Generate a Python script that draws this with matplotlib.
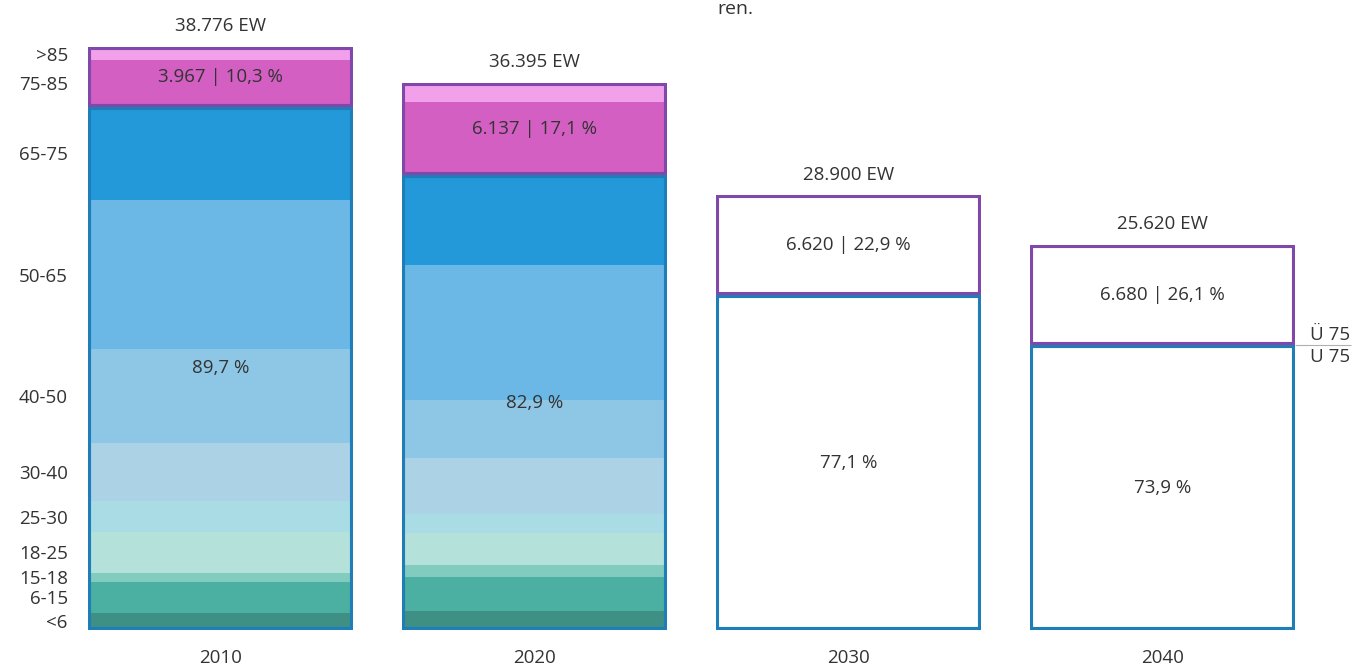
import matplotlib
matplotlib.use("Agg")
import matplotlib.pyplot as plt
import numpy as np

plt.rcParams['font.family'] = ['Open Sans', 'DejaVu Sans']

# Jahre und Einwohner (EW) je Altersgruppe
years = ['2010', '2020', '2030', '2040']
age_groups = ['<6', '6-15', '15-18', '18-25', '25-30', '30-40', '40-50', '50-65', '65-75', '75-85', '>85']
pop_2010 = [1159, 2060, 600, 2730, 2000, 3860, 6250, 9950, 6200, 3097, 870]
pop_2020 = [1260, 2260, 800, 2130, 1260, 3720, 3860, 8980, 5988, 4877, 1260]

totals = [38776, 36395, 28900, 25620]
over75 = [3967, 6137, 6620, 6680]
under75 = [t - o for t, o in zip(totals, over75)]
over75_labels = ['3.967 | 10,3 %', '6.137 | 17,1 %', '6.620 | 22,9 %', '6.680 | 26,1 %']
under75_labels = ['89,7 %', '82,9 %', '77,1 %', '73,9 %']
total_labels = ['38.776 EW', '36.395 EW', '28.900 EW', '25.620 EW']

age_colors = ['#3e9084', '#4bafa2', '#82cbbf', '#b4e1da', '#aadce6', '#abd2e5',
              '#8ec6e6', '#6bb8e6', '#2399da', '#d35fc2', '#f3a0ea']
blue = '#1f7db8'
purple = '#8048aa'
text_color = '#333333'
fs = 13.5

fig = plt.figure(figsize=(13.52, 6.69), dpi=100)
ax = fig.add_axes([72 / 1352, 39 / 669, 1228 / 1352, 601.4 / 669])
ax.set_xlim(-0.473, 3.438)
ax.set_ylim(0, 40000)

x = np.arange(len(years))
w = 0.844

# gestapelte Altersgruppen fuer 2010 und 2020
for i, pops in enumerate([pop_2010, pop_2020]):
    bottom = 0
    for val, col in zip(pops, age_colors):
        ax.bar(x[i], val, w, bottom=bottom, color=col, edgecolor='none', zorder=1)
        bottom += val

# Rahmen U 75 / Ü 75 (Strich nur nach innen)
for i in x:
    for h, b, col in [(under75[i], 0, blue), (over75[i], under75[i], purple)]:
        rect = ax.bar(i, h, w, bottom=b, fill=False, edgecolor=col, linewidth=4.4, zorder=3)[0]
        rect.set_clip_path(rect)

for i in x:
    ax.text(i, under75[i] + over75[i] / 2, over75_labels[i], ha='center', va='center',
            fontsize=fs, color=text_color, zorder=4)
    ax.text(i, under75[i] / 2, under75_labels[i], ha='center', va='center',
            fontsize=fs, color=text_color, zorder=4)
    ax.annotate(total_labels[i], (i, totals[i]), xytext=(0, 15), textcoords='offset points',
                ha='center', va='center', fontsize=fs, color=text_color)

# Altersgruppen links an der Saeule 2010
centers = np.cumsum(pop_2010) - np.array(pop_2010) / 2
ax.set_yticks(centers)
ax.set_yticklabels(age_groups, fontsize=fs, color=text_color)
ax.set_xticks(x)
ax.set_xticklabels(years, fontsize=fs, color=text_color)
ax.tick_params(axis='y', length=0, pad=3)
ax.tick_params(axis='x', length=0, pad=14)
for s in ax.spines.values():
    s.set_visible(False)

# Trennlinie U 75 / Ü 75 rechts
ax.hlines(under75[3], 3 + w / 2, 3.6, color='#b0b0b0', linewidth=0.8, clip_on=False)
ax.annotate('Ü 75', (3.47, under75[3]), xytext=(0, 1), textcoords='offset points',
            ha='left', va='bottom', fontsize=fs, color=text_color, annotation_clip=False)
ax.annotate('U 75', (3.47, under75[3]), xytext=(0, -2), textcoords='offset points',
            ha='left', va='top', fontsize=fs, color=text_color, annotation_clip=False)

fig.text(717 / 1352, 1 - 14 / 669, 'ren.', ha='left', va='baseline', fontsize=14, color=text_color)

fig.savefig('out.png', dpi=100)
